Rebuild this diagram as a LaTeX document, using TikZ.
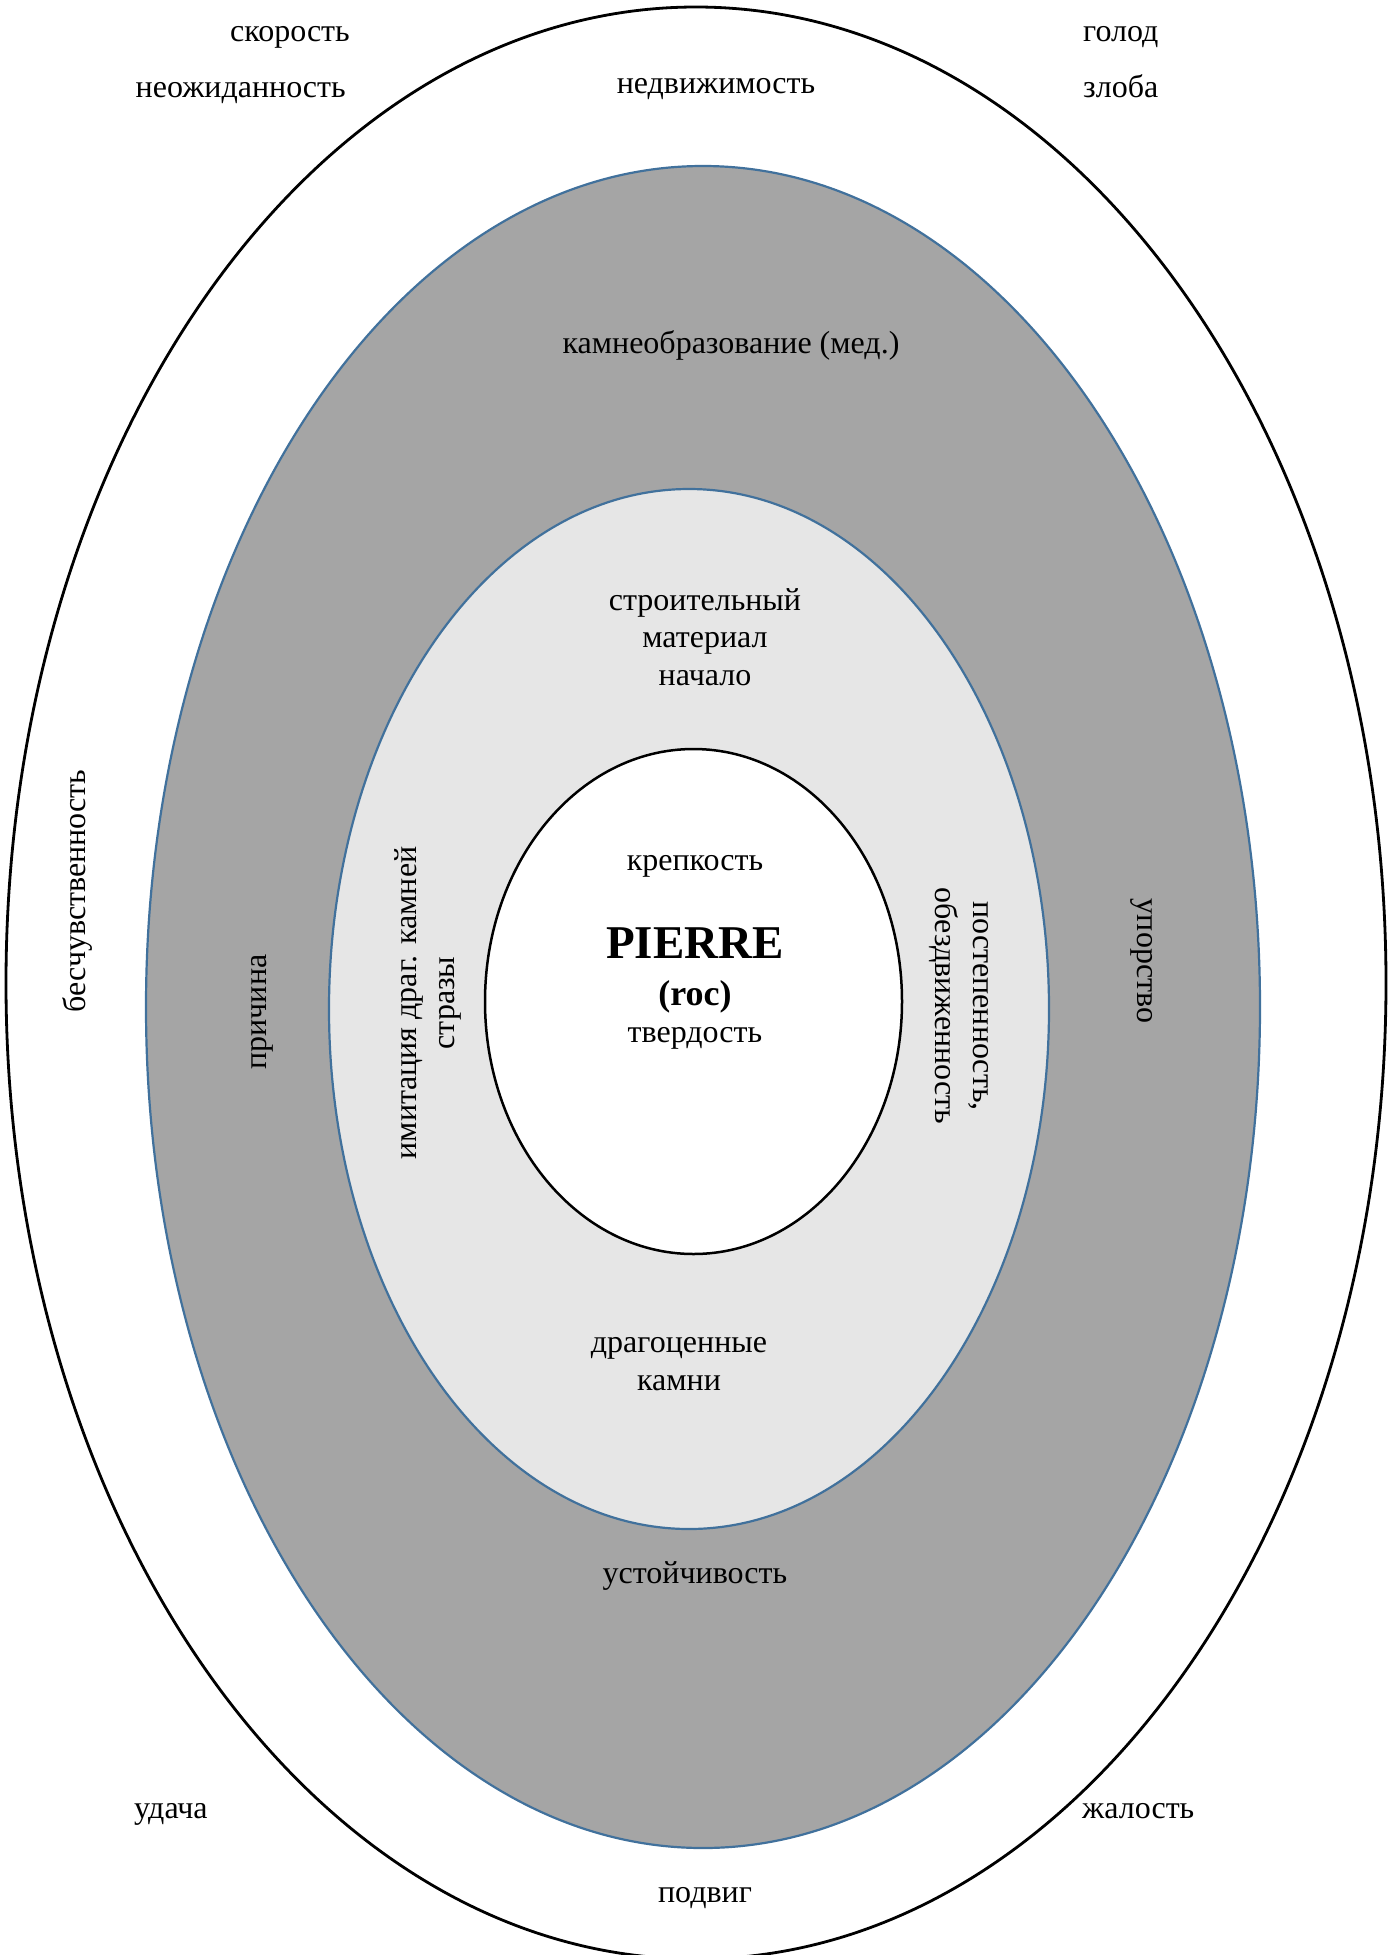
\documentclass[tikz,border=0pt]{standalone}
\usepackage{fontspec}
\setmainfont{Liberation Serif}
\definecolor{ringdark}{HTML}{A5A5A5}
\definecolor{ringlight}{HTML}{E6E6E6}
\definecolor{ringedge}{HTML}{41719C}
\begin{document}
\begin{tikzpicture}[x=1pt,y=-1pt,
  lbl/.style={inner sep=0pt,font=\fontsize{32}{37.5}\selectfont,align=center},
  ringline/.style={draw=ringedge,line width=2.2pt}]
\useasboundingbox (0,0) rectangle (1399,1955);
\clip (0,0) rectangle (1399,1955);
\fill[white] (0,0) rectangle (1399,1955);

% concentric zones
\draw[line width=2.8pt,fill=white] (696,983) ellipse [x radius=690, y radius=976];
\draw[ringline,fill=ringdark] (703,1007) ellipse [x radius=557, y radius=841];
\draw[ringline,fill=ringlight] (689,1009) ellipse [x radius=360, y radius=520];
\draw[line width=2.5pt,fill=white] (693.5,1001.5) ellipse [x radius=208.5, y radius=252.5];

% outer zone
\node[lbl,anchor=base east] (skor) at (350,41) {скорость};
\node[lbl,anchor=base east] (neozh) at (346,97) {неожиданность};
\node[lbl,anchor=base] (nedv) at (716,93) {недвижимость};
\node[lbl,anchor=base west] (golod) at (1083,41) {голод};
\node[lbl,anchor=base west] (zloba) at (1083,97) {злоба};
\node[lbl,rotate=90] (besch) at (77,891) {бесчувственность};
\node[lbl,anchor=base west] (udacha) at (134,1818) {удача};
\node[lbl,anchor=base west] (zhal) at (1082,1818) {жалость};
\node[lbl,anchor=base] (podvig) at (705,1902) {подвиг};

% dark ring
\node[lbl,anchor=base] (kamn) at (731,353) {камнеобразование (мед.)};
\node[lbl,rotate=90] (prich) at (262,1012) {причина};
\node[lbl,rotate=-90] (upor) at (1142,961) {упорство};
\node[lbl,anchor=base] (ustoi) at (695,1583) {устойчивость};

% light ring
\node[lbl] (stroi) at (705,637) {строительный\\материал\\начало};
\node[lbl,rotate=90] (imit) at (428,1003) {имитация драг. камней\\стразы};
\node[lbl,rotate=-90] (postep) at (959,1006) {постепенность,\\обездвиженность};
\node[lbl] (drag) at (679,1364) {драгоценные\\камни};

% core
\node[lbl,anchor=base] (krep) at (695,870) {крепкость};
\node[inner sep=0pt,anchor=base,font=\fontsize{47}{50}\selectfont\bfseries] (pierre) at (695,958) {PIERRE};
\node[inner sep=0pt,anchor=base,font=\fontsize{36}{40}\selectfont\bfseries] (roc) at (695,1005) {(roc)};
\node[lbl,anchor=base] (tverd) at (695,1042) {твердость};
\end{tikzpicture}
\end{document}
